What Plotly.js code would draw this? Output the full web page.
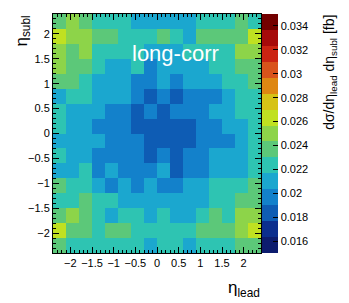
<!DOCTYPE html>
<html>
<head>
<meta charset="utf-8">
<script src="https://cdn.plot.ly/plotly-3.0.1.min.js"></script>
<style>
html,body{margin:0;padding:0;background:#fff;}
#chart{width:349px;height:303px;}
</style>
</head>
<body>
<div id="chart"></div>
<script>
// bin centres (bin width 0.3, range -2.4 .. 2.4)
const etaLead = [-2.25, -1.95, -1.65, -1.35, -1.05, -0.75, -0.45, -0.15, 0.15, 0.45, 0.75, 1.05, 1.35, 1.65, 1.95, 2.25];
const etaSubl = [2.25, 1.95, 1.65, 1.35, 1.05, 0.75, 0.45, 0.15, -0.15, -0.45, -0.75, -1.05, -1.35, -1.65, -1.95, -2.25];

// cross section dσ/dη_lead dη_subl [fb], rows listed from top (η_subl = 2.25) to bottom
const row01 = [0.0237, 0.0251, 0.0238, 0.0224, 0.0222, 0.0225, 0.0210, 0.0208, 0.0211, 0.0209, 0.0212, 0.0223, 0.0226, 0.0224, 0.0239, 0.0222];
const row02 = [0.0263, 0.0250, 0.0252, 0.0236, 0.0238, 0.0224, 0.0222, 0.0225, 0.0237, 0.0223, 0.0210, 0.0238, 0.0239, 0.0236, 0.0237, 0.0262];
const row03 = [0.0249, 0.0237, 0.0251, 0.0224, 0.0226, 0.0223, 0.0225, 0.0211, 0.0209, 0.0212, 0.0224, 0.0222, 0.0225, 0.0223, 0.0250, 0.0252];
const row04 = [0.0251, 0.0238, 0.0236, 0.0223, 0.0209, 0.0211, 0.0224, 0.0197, 0.0210, 0.0208, 0.0212, 0.0209, 0.0225, 0.0222, 0.0238, 0.0236];
const row05 = [0.0236, 0.0239, 0.0224, 0.0210, 0.0212, 0.0208, 0.0196, 0.0198, 0.0211, 0.0195, 0.0209, 0.0210, 0.0212, 0.0223, 0.0225, 0.0237];
const row06 = [0.0209, 0.0223, 0.0225, 0.0211, 0.0208, 0.0210, 0.0197, 0.0184, 0.0196, 0.0186, 0.0198, 0.0195, 0.0197, 0.0211, 0.0224, 0.0222];
const row07 = [0.0224, 0.0210, 0.0212, 0.0209, 0.0196, 0.0198, 0.0185, 0.0197, 0.0183, 0.0195, 0.0198, 0.0196, 0.0210, 0.0209, 0.0223, 0.0225];
const row08 = [0.0222, 0.0211, 0.0209, 0.0197, 0.0195, 0.0198, 0.0186, 0.0183, 0.0185, 0.0184, 0.0187, 0.0196, 0.0199, 0.0211, 0.0208, 0.0224];
const row09 = [0.0210, 0.0208, 0.0212, 0.0209, 0.0197, 0.0195, 0.0198, 0.0184, 0.0182, 0.0186, 0.0185, 0.0196, 0.0198, 0.0195, 0.0211, 0.0223];
const row10 = [0.0225, 0.0209, 0.0211, 0.0196, 0.0198, 0.0195, 0.0197, 0.0185, 0.0199, 0.0184, 0.0196, 0.0197, 0.0210, 0.0212, 0.0209, 0.0224];
const row11 = [0.0211, 0.0209, 0.0223, 0.0196, 0.0210, 0.0198, 0.0195, 0.0197, 0.0212, 0.0186, 0.0196, 0.0198, 0.0209, 0.0211, 0.0210, 0.0222];
const row12 = [0.0238, 0.0224, 0.0222, 0.0210, 0.0196, 0.0211, 0.0197, 0.0209, 0.0195, 0.0198, 0.0212, 0.0210, 0.0223, 0.0225, 0.0224, 0.0236];
const row13 = [0.0223, 0.0225, 0.0237, 0.0224, 0.0222, 0.0209, 0.0211, 0.0210, 0.0208, 0.0212, 0.0209, 0.0211, 0.0224, 0.0226, 0.0238, 0.0236];
const row14 = [0.0237, 0.0251, 0.0239, 0.0223, 0.0210, 0.0225, 0.0222, 0.0211, 0.0224, 0.0209, 0.0212, 0.0223, 0.0237, 0.0225, 0.0249, 0.0252];
const row15 = [0.0264, 0.0238, 0.0236, 0.0224, 0.0237, 0.0239, 0.0222, 0.0225, 0.0223, 0.0226, 0.0224, 0.0236, 0.0238, 0.0237, 0.0251, 0.0263];
const row16 = [0.0236, 0.0223, 0.0225, 0.0222, 0.0224, 0.0226, 0.0223, 0.0210, 0.0225, 0.0222, 0.0211, 0.0224, 0.0223, 0.0226, 0.0238, 0.0237];

const xTickVals = [-2, -1.5, -1, -0.5, 0, 0.5, 1, 1.5, 2];
const zTickVals = [0.016, 0.018, 0.02, 0.022, 0.024, 0.026, 0.028, 0.03, 0.032, 0.034];
const zTickText = ['0.016', '0.018', '0.02', '0.022', '0.024', '0.026', '0.028', '0.03', '0.032', '0.034'];
const zMin = 0.015, zMax = 0.035;

// discrete palette, 15 contour bands from zMin to zMax
const palette = ['#0c1c6e', '#0b2e8e', '#0e5cb4', '#1381cb', '#1ba7cf', '#2ec4b2', '#5cc879',
                 '#8dd449', '#c0e121', '#d6c216', '#de8712', '#d9531b', '#cb2412', '#a60a0a', '#730000'];
const colorscale = [];
palette.forEach((c, i) => {
  colorscale.push([i / palette.length, c]);
  colorscale.push([(i + 1) / palette.length, c]);
});

const z = [row01, row02, row03, row04, row05, row06, row07, row08, row09, row10, row11, row12, row13, row14, row15, row16];

const FONT = 'Liberation Sans, Arial, Helvetica, sans-serif';
const L = 53, R = 87.5, T = 14, B = 50;
const W = 349 - L - R, H = 303 - T - B;
const px = v => (v - L) / W;
const py = v => (303 - B - v) / H;

const trace = {
  type: 'heatmap',
  x: etaLead,
  y: etaSubl,
  z: z,
  zmin: zMin,
  zmax: zMax,
  colorscale: colorscale,
  hoverinfo: 'skip',
  colorbar: {
    x: 1 + 1 / W, xanchor: 'left', xpad: 0, ypad: 0,
    y: 0.5, yanchor: 'middle', len: 1, lenmode: 'fraction',
    thickness: 16, thicknessmode: 'pixels',
    outlinewidth: 0,
    ticks: 'inside', ticklen: 5, tickcolor: '#000',
    tickvals: zTickVals, ticktext: zTickText,
    tickfont: {family: FONT, size: 11, color: '#000'}
  }
};

const axisCommon = {
  range: [-2.4, 2.4],
  tickvals: xTickVals,
  ticks: 'inside', ticklen: 6, tickcolor: '#000', tickwidth: 1,
  showline: true, linecolor: '#000', linewidth: 1, mirror: 'allticks',
  showgrid: false, zeroline: false,
  minor: {dtick: 0.1, tick0: 0, ticks: 'inside', ticklen: 3, tickcolor: '#000', showgrid: false},
  tickfont: {family: FONT, size: 11, color: '#000'}
};

const layout = {
  width: 349, height: 303,
  margin: {l: L, r: R, t: T, b: B, pad: 0},
  paper_bgcolor: '#fff', plot_bgcolor: '#fff',
  font: {family: FONT, color: '#000'},
  xaxis: Object.assign({}, axisCommon),
  yaxis: Object.assign({}, axisCommon),
  showlegend: false,
  annotations: [
    {text: 'long-corr', xref: 'paper', yref: 'paper', x: px(130), y: py(53), xanchor: 'left', yanchor: 'middle',
     showarrow: false, font: {family: FONT, size: 22, color: '#fff'}},
    {text: 'η<sub>lead</sub>', xref: 'paper', yref: 'paper', x: px(263), y: py(289), xanchor: 'right', yanchor: 'middle',
     showarrow: false, font: {family: FONT, size: 17, color: '#000'}},
    {text: 'η<sub>subl</sub>', xref: 'paper', yref: 'paper', x: px(22), y: py(14), xanchor: 'center', yanchor: 'top',
     textangle: -90, showarrow: false, font: {family: FONT, size: 17, color: '#000'}},
    {text: 'dσ/dη<sub>lead</sub> dη<sub>subl</sub> [fb]', xref: 'paper', yref: 'paper', x: px(330), y: py(13), xanchor: 'center', yanchor: 'top',
     textangle: -90, showarrow: false, font: {family: FONT, size: 14, color: '#000'}}
  ]
};

Plotly.newPlot('chart', [trace], layout, {staticPlot: true, displayModeBar: false});
</script>
</body>
</html>
